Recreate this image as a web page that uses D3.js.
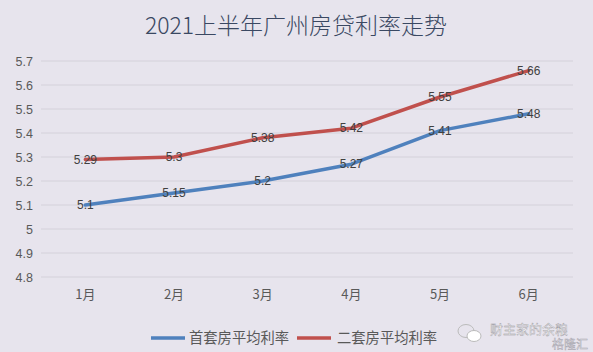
<!DOCTYPE html>
<html><head><meta charset="utf-8">
<script src="https://cdn.jsdelivr.net/npm/d3@7"></script>
<style>
body{margin:0;background:#e7e4ed;}
svg{display:block;}
</style></head>
<body><svg id="c" width="593" height="352"></svg>
<script>
const title = "2021上半年广州房贷利率走势";
const months = ["1月","2月","3月","4月","5月","6月"];
const seriesNames = ["首套房平均利率","二套房平均利率"];
const firstHome = [5.1, 5.15, 5.2, 5.27, 5.41, 5.48];
const secondHome = [5.29, 5.3, 5.38, 5.42, 5.55, 5.66];
const yTicks = [4.8, 4.9, 5, 5.1, 5.2, 5.3, 5.4, 5.5, 5.6, 5.7];
const colors = ["#4f81bd", "#c0504d"];

const svg = d3.select("#c");
svg.append("rect").attr("width",593).attr("height",352).attr("fill","#e7e4ed");

const x = d3.scaleBand().domain(months).range([41, 573]);
const y = d3.scaleLinear().domain([4.8, 5.7]).range([277, 61]);
const font = "'Liberation Sans','Noto Sans CJK SC',sans-serif";
const cjk = "'Noto Sans CJK SC',sans-serif";

svg.append("text").attr("x",296).attr("y",34).attr("text-anchor","middle")
  .attr("font-family",cjk).attr("font-size",23).attr("font-weight",300)
  .attr("fill","#3a4862").text(title);

// gridlines
svg.append("g").selectAll("line").data(yTicks).join("line")
  .attr("x1",41).attr("x2",573)
  .attr("y1",d=>y(d)).attr("y2",d=>y(d))
  .attr("stroke","#d4d1da").attr("stroke-width",1);

// y axis
const yAxis = svg.append("g").attr("transform","translate(33,0)")
  .call(d3.axisLeft(y).tickValues(yTicks).tickSize(0).tickPadding(0).tickFormat(d=>String(+d.toFixed(1))));
yAxis.select(".domain").remove();
yAxis.selectAll("text").attr("font-family",font).attr("font-size",12.5).attr("fill","#595959").attr("dy","0.35em");

// x axis
const xAxis = svg.append("g").attr("transform","translate(0,290)")
  .call(d3.axisBottom(x).tickSize(0).tickPadding(0));
xAxis.select(".domain").remove();
xAxis.selectAll("text").attr("font-family",cjk).attr("font-size",13).attr("fill","#595959").attr("dy","0.7em");

const series = [firstHome, secondHome];
const line = d3.line().x((d,i)=>x(months[i])+x.bandwidth()/2).y(d=>y(d));
series.forEach((s,k)=>{
  svg.append("path").datum(s).attr("d",line).attr("fill","none")
    .attr("stroke",colors[k]).attr("stroke-width",3.5).attr("stroke-linejoin","round").attr("stroke-linecap","round");
});
series.forEach((s,k)=>{
  svg.append("g").selectAll("text").data(s).join("text")
    .attr("x",(d,i)=>x(months[i])+x.bandwidth()/2)
    .attr("y",d=>y(d)).attr("dy","0.35em")
    .attr("text-anchor","middle").attr("font-family",font).attr("font-size",12)
    .attr("fill","#404040").text(d=>String(d));
});

// legend
const leg = [{x:151, tx:189},{x:297, tx:337}];
seriesNames.forEach((n,k)=>{
  svg.append("line").attr("x1",leg[k].x).attr("x2",leg[k].x+34).attr("y1",338).attr("y2",338)
    .attr("stroke",colors[k]).attr("stroke-width",3.5);
  svg.append("text").attr("x",leg[k].tx).attr("y",338).attr("dy","0.35em")
    .attr("font-family",cjk).attr("font-size",14.3).attr("fill","#595959").text(n);
});

// watermark
const wm = svg.append("g");
wm.append("ellipse").attr("cx",466).attr("cy",331).attr("rx",8).attr("ry",6.5).attr("fill","none").attr("stroke","#bbb").attr("stroke-width",1);
wm.append("ellipse").attr("cx",474).attr("cy",336).attr("rx",7).attr("ry",5.5).attr("fill","#fff").attr("stroke","#bbb").attr("stroke-width",1);
wm.append("text").attr("x",490).attr("y",329).attr("dy","0.35em").attr("font-family",cjk).attr("font-size",13)
  .attr("fill","#ffffff").attr("stroke","#9a98a0").attr("stroke-width",0.4).text("财主家的余粮");
wm.append("text").attr("x",588).attr("y",345).attr("dy","0.35em").attr("text-anchor","end").attr("font-family",cjk).attr("font-size",12)
  .attr("fill","#f4f3f7").attr("stroke","#a9a7b0").attr("stroke-width",0.5).text("格隆汇");
</script></body></html>
